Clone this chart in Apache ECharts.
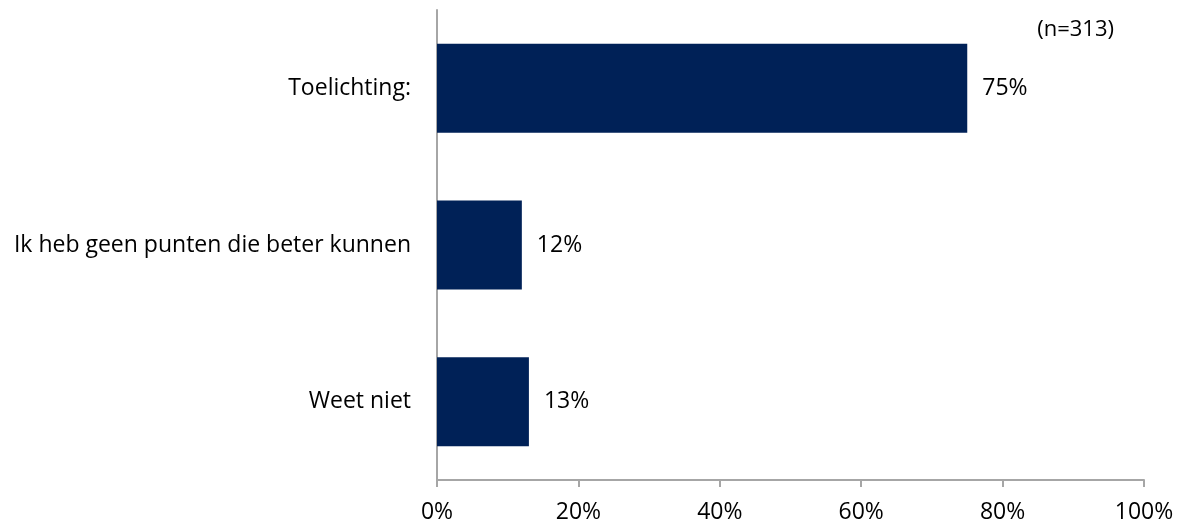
<!DOCTYPE html>
<html>
<head>
<meta charset="utf-8">
<script src="https://cdn.jsdelivr.net/npm/echarts@6/dist/echarts.min.js"></script>
<style>
  html, body { margin: 0; padding: 0; background: #fff; }
  #chart { width: 1180px; height: 527px; }
</style>
</head>
<body>
<div id="chart"></div>
<script>
const categories = ['Toelichting:', 'Ik heb geen punten die beter kunnen', 'Weet niet']
const values = [75, 12, 13]
const sampleNote = '(n=313)'

const chart = echarts.init(document.getElementById('chart'))
const font = '"Open Sans", sans-serif'

chart.setOption({
  backgroundColor: '#ffffff',
  animation: false,
  title: {
    text: sampleNote,
    right: 61,
    top: 14,
    textStyle: { fontFamily: font, fontSize: 22, fontWeight: 'normal', color: '#000' }
  },
  grid: { left: 437, right: 36, top: 10, bottom: 47 },
  xAxis: {
    type: 'value',
    min: 0,
    max: 100,
    interval: 20,
    axisLine: { show: true, lineStyle: { color: '#a6a6a6', width: 2 } },
    axisTick: { show: true, length: 7, lineStyle: { color: '#a6a6a6', width: 2 } },
    splitLine: { show: false },
    axisLabel: {
      formatter: '{value}%',
      margin: 21,
      fontFamily: font,
      fontSize: 23,
      color: '#000'
    }
  },
  yAxis: {
    type: 'category',
    data: categories,
    inverse: true,
    axisLine: { show: true, lineStyle: { color: '#a6a6a6', width: 2 } },
    axisTick: { show: false },
    axisLabel: { margin: 26, fontFamily: font, fontSize: 23, color: '#000' }
  },
  series: [{
    type: 'bar',
    data: values,
    barWidth: 89,
    itemStyle: { color: '#002157' },
    label: {
      show: true,
      position: 'right',
      distance: 15,
      formatter: '{c}%',
      fontFamily: font,
      fontSize: 23,
      color: '#000'
    }
  }]
})
</script>
</body>
</html>
